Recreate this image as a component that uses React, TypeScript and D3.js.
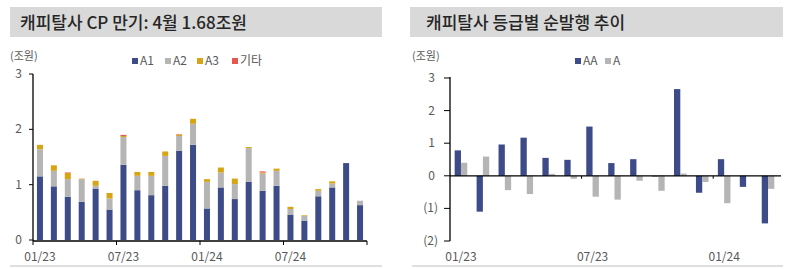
import * as d3 from "d3";

// left chart: CP maturities by grade (조원)
const cpMonths = [
  "01/23", "02/23", "03/23", "04/23", "05/23", "06/23", "07/23", "08/23", "09/23", "10/23", "11/23", "12/23",
  "01/24", "02/24", "03/24", "04/24", "05/24", "06/24", "07/24", "08/24", "09/24", "10/24", "11/24", "12/24",
];
const a1 = [1.15, 0.97, 0.78, 0.69, 0.93, 0.55, 1.36, 0.9, 0.81, 0.98, 1.61, 1.72, 0.57, 0.95, 0.74, 1.05, 0.89, 0.98, 0.46, 0.35, 0.79, 0.95, 1.39, 0.63];
const a2 = [0.49, 0.28, 0.32, 0.41, 0.05, 0.2, 0.5, 0.26, 0.35, 0.54, 0.27, 0.38, 0.48, 0.27, 0.27, 0.61, 0.31, 0.27, 0.1, 0.09, 0.1, 0.07, 0, 0.08];
const a3 = [0.08, 0.1, 0.11, 0.01, 0.09, 0.1, 0.02, 0.07, 0.07, 0.08, 0.02, 0.09, 0.05, 0.09, 0.1, 0.02, 0.02, 0.04, 0.04, 0.01, 0.03, 0.04, 0, 0];
const etc = [0, 0, 0.01, 0, 0, 0, 0.02, 0, 0, 0, 0.01, 0, 0, 0, 0, 0, 0.02, 0, 0, 0, 0, 0, 0, 0];
const cpTicks = ["01/23", "07/23", "01/24", "07/24"];

// right chart: net issuance by grade (조원)
const netMonths = [
  "01/23", "02/23", "03/23", "04/23", "05/23", "06/23", "07/23", "08/23", "09/23", "10/23", "11/23", "12/23",
  "01/24", "02/24", "03/24",
];
const aa = [0.78, -1.1, 0.96, 1.17, 0.55, 0.49, 1.51, 0.39, 0.51, -0.02, 2.66, -0.52, 0.51, -0.34, -1.46];
const aSingle = [0.4, 0.59, -0.44, -0.56, 0.06, -0.09, -0.64, -0.73, -0.15, -0.46, 0.07, -0.19, -0.84, 0, -0.4];
const netTicks = ["01/23", "07/23", "01/24"];

const COLORS = { A1: "#3d4b88", A2: "#b5b5b5", A3: "#d6a516", etc: "#e8574f" };
const FONT = "'Noto Sans CJK KR', 'Noto Sans', sans-serif";
const LABEL = "#595959";

function LeftChart() {
  const x = d3.scaleBand().domain(cpMonths).range([33, 367]);
  const y = d3.scaleLinear().domain([0, 3]).range([240, 74]);
  const rows = cpMonths.map((m, i) => ({ m, A1: a1[i], A2: a2[i], A3: a3[i], etc: etc[i] }));
  const keys = ["A1", "A2", "A3", "etc"] as const;
  const stack = d3.stack<any>().keys(keys as any)(rows);
  const bw = 6;
  const legend = [
    { k: "A1", t: "A1", x: 132 },
    { k: "A2", t: "A2", x: 165 },
    { k: "A3", t: "A3", x: 197 },
    { k: "etc", t: "기타", x: 232 },
  ];
  return (
    <g>
      <rect x={10} y={7} width={372} height={30} fill="#d9d9d9" />
      <text x={20} y={29} fontSize={17} fill="#262626" fontFamily={FONT} fontWeight={500}>
        캐피탈사 CP 만기: 4월 1.68조원
      </text>
      <text x={10} y={60} fontSize={11} fill={LABEL} fontFamily={FONT}>(조원)</text>
      {legend.map((l) => (
        <g key={l.k}>
          <rect x={l.x} y={58} width={6} height={6} fill={(COLORS as any)[l.k]} />
          <text x={l.x + 8} y={65} fontSize={12} fill={LABEL} fontFamily={FONT}>{l.t}</text>
        </g>
      ))}
      {stack.map((s) => (
        <g key={s.key} fill={(COLORS as any)[s.key]}>
          {s.map((d, i) =>
            d[1] - d[0] > 0 ? (
              <rect key={i} x={x(cpMonths[i])! + x.bandwidth() / 2 - bw / 2} y={y(d[1])} width={bw} height={y(d[0]) - y(d[1])} />
            ) : null
          )}
        </g>
      ))}
      {y.ticks(3).map((t) => (
        <g key={t}>
          <line x1={29} x2={33} y1={y(t)} y2={y(t)} stroke="#000" />
          <text x={22} y={y(t) + 4} textAnchor="end" fontSize={12} fill={LABEL} fontFamily={FONT}>{t}</text>
        </g>
      ))}
      <line x1={33} x2={33} y1={74} y2={241} stroke="#000" strokeWidth={1.3} />
      <line x1={33} x2={367} y1={241} y2={241} stroke="#000" strokeWidth={1.5} />
      {[...cpTicks.map((t) => x(t)!), 367].map((p, i) => (
        <line key={i} x1={p} x2={p} y1={241} y2={245} stroke="#000" />
      ))}
      {cpTicks.map((t) => (
        <text key={t} x={x(t)! + x.bandwidth() / 2} y={261} textAnchor="middle" fontSize={12} fill={LABEL} fontFamily={FONT}>{t}</text>
      ))}
      <line x1={10} x2={382} y1={266} y2={266} stroke="#bfbfbf" />
    </g>
  );
}

function RightChart() {
  const x = d3.scaleBand().domain(netMonths).range([450, 779]);
  const y = d3.scaleLinear().domain([-2, 3]).range([241, 78]);
  const bw = 6.3;
  const fmt = (t: number) => (t < 0 ? `(${-t})` : `${t}`);
  const series = [
    { name: "AA", vals: aa, color: COLORS.A1, off: -bw },
    { name: "A", vals: aSingle, color: COLORS.A2, off: 0 },
  ];
  return (
    <g>
      <rect x={410} y={7} width={373} height={30} fill="#d9d9d9" />
      <text x={426} y={29} fontSize={17} fill="#262626" fontFamily={FONT} fontWeight={500}>
        캐피탈사 등급별 순발행 추이
      </text>
      <text x={412} y={60} fontSize={11} fill={LABEL} fontFamily={FONT}>(조원)</text>
      <rect x={575} y={58} width={6} height={6} fill={COLORS.A1} />
      <text x={583} y={65} fontSize={12} fill={LABEL} fontFamily={FONT}>AA</text>
      <rect x={605} y={58} width={6} height={6} fill={COLORS.A2} />
      <text x={613} y={65} fontSize={12} fill={LABEL} fontFamily={FONT}>A</text>
      {series.map((s) => (
        <g key={s.name} fill={s.color}>
          {s.vals.map((v, i) => (
            <rect
              key={i}
              x={x(netMonths[i])! + x.bandwidth() / 2 + s.off}
              y={y(Math.max(v, 0))}
              width={bw}
              height={Math.abs(y(v) - y(0))}
            />
          ))}
        </g>
      ))}
      {y.ticks(5).map((t) => (
        <g key={t}>
          <line x1={444} x2={450} y1={y(t)} y2={y(t)} stroke="#000" />
          <text x={t < 0 ? 438 : 435} y={y(t) + 4} textAnchor="end" fontSize={12} fill={LABEL} fontFamily={FONT}>{fmt(t)}</text>
        </g>
      ))}
      <line x1={450} x2={450} y1={77} y2={241} stroke="#000" strokeWidth={1.3} />
      <line x1={450} x2={781} y1={y(0)} y2={y(0)} stroke="#000" strokeWidth={1.3} />
      {netTicks.slice(1).map((t) => (
        <line key={t} x1={x(t)!} x2={x(t)!} y1={y(0)} y2={y(0) + 3} stroke="#000" />
      ))}
      {netTicks.map((t) => (
        <text key={t} x={x(t)! + x.bandwidth() / 2} y={261} textAnchor="middle" fontSize={12} fill={LABEL} fontFamily={FONT}>{t}</text>
      ))}
      <line x1={412} x2={783} y1={266} y2={266} stroke="#bfbfbf" />
    </g>
  );
}

export default function App() {
  return (
    <svg width={800} height={269} style={{ position: "absolute", left: 0, top: 0, background: "#fff" }}>
      <LeftChart />
      <RightChart />
    </svg>
  );
}
